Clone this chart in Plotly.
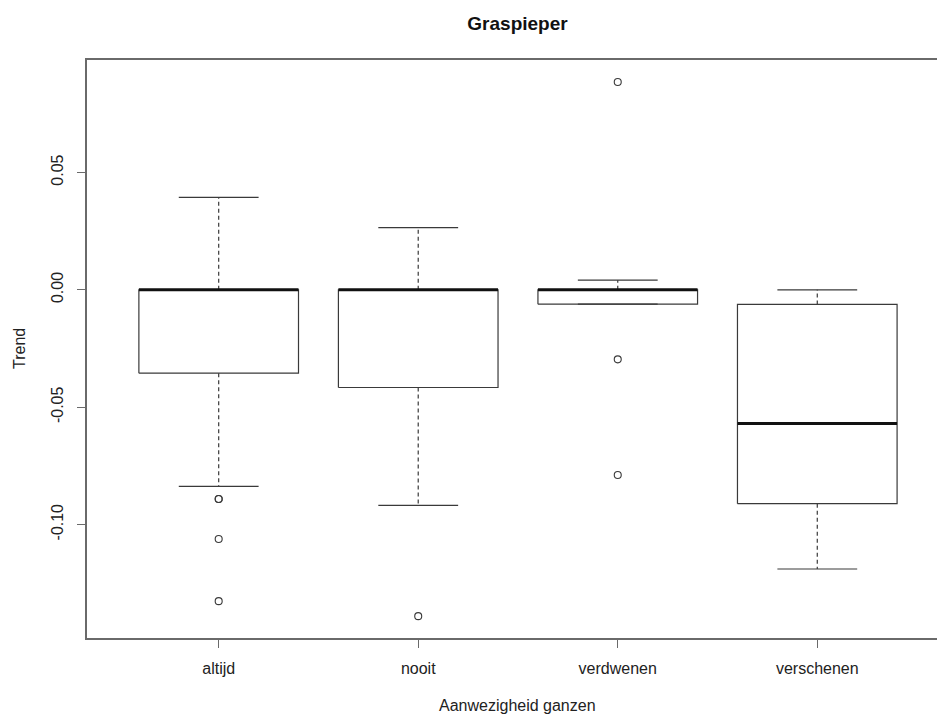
import plotly.graph_objects as go

# ---- data ----
categories = ["altijd", "nooit", "verdwenen", "verschenen"]
upper_whisker = [0.0394, 0.0265, 0.0041, 0.0000]
q3 = [0.0000, 0.0000, 0.0000, -0.0062]
median = [0.0000, 0.0000, 0.0000, -0.0569]
q1 = [-0.0355, -0.0416, -0.0061, -0.0911]
lower_whisker = [-0.0837, -0.0918, -0.0061, -0.1189]
outliers = [
    [-0.0891, -0.0891, -0.1061, -0.1326],
    [-0.1390],
    [0.0885, -0.0296, -0.0789],
    [],
]
y_tick_vals = [-0.10, -0.05, 0.00, 0.05]
y_tick_text = ["-0.10", "-0.05", "0.00", "0.05"]

# ---- style constants ----
FONT = "Liberation Sans, Arial, sans-serif"
LINE_COL = "#3a3a3a"
FRAME_COL = "#6a6a6a"
BOX_HALF = 0.4
CAP_HALF = 0.2

positions = list(range(1, len(categories) + 1))

box_x, box_y = [], []
med_x, med_y = [], []
wh_x, wh_y = [], []
cap_x, cap_y = [], []
out_x, out_y = [], []

for p, uw, a3, md, a1, lw, outs in zip(positions, upper_whisker, q3, median, q1, lower_whisker, outliers):
    box_x += [p - BOX_HALF, p + BOX_HALF, p + BOX_HALF, p - BOX_HALF, p - BOX_HALF, None]
    box_y += [a1, a1, a3, a3, a1, None]
    med_x += [p - BOX_HALF, p + BOX_HALF, None]
    med_y += [md, md, None]
    if uw > a3:
        wh_x += [p, p, None]
        wh_y += [a3, uw, None]
    if lw < a1:
        wh_x += [p, p, None]
        wh_y += [a1, lw, None]
    cap_x += [p - CAP_HALF, p + CAP_HALF, None, p - CAP_HALF, p + CAP_HALF, None]
    cap_y += [uw, uw, None, lw, lw, None]
    out_x += [p] * len(outs)
    out_y += outs

fig = go.Figure()
fig.add_trace(go.Scatter(x=wh_x, y=wh_y, mode="lines",
                         line=dict(color=LINE_COL, width=1.2, dash="4px,3px"),
                         hoverinfo="skip", showlegend=False))
fig.add_trace(go.Scatter(x=cap_x, y=cap_y, mode="lines",
                         line=dict(color=LINE_COL, width=1.2),
                         hoverinfo="skip", showlegend=False))
fig.add_trace(go.Scatter(x=box_x, y=box_y, mode="lines",
                         line=dict(color=LINE_COL, width=1.2),
                         hoverinfo="skip", showlegend=False))
fig.add_trace(go.Scatter(x=med_x, y=med_y, mode="lines",
                         line=dict(color="#111111", width=3),
                         hoverinfo="skip", showlegend=False))
fig.add_trace(go.Scatter(x=out_x, y=out_y, mode="markers",
                         marker=dict(symbol="circle-open", size=7, color=LINE_COL,
                                     line=dict(width=1.1, color=LINE_COL)),
                         hoverinfo="skip", showlegend=False))

plot_l, plot_r = 87, 937
title_x = (517.5 - plot_l) / (plot_r - plot_l)

fig.update_layout(
    width=937, height=718,
    margin=dict(l=87, r=0, t=60, b=80),
    paper_bgcolor="white", plot_bgcolor="white",
    font=dict(family=FONT, size=16, color="#222222"),
    showlegend=False,
    title=dict(text="<b>Graspieper</b>", font=dict(family=FONT, size=19, color="#111111"),
               xref="paper", x=title_x, xanchor="center",
               yref="container", y=1 - 23 / 718, yanchor="middle"),
)
fig.update_xaxes(
    range=[0.34, 4.6], tickmode="array", tickvals=positions, ticktext=categories,
    showline=True, mirror=True, linecolor=FRAME_COL, linewidth=1.5,
    ticks="outside", ticklen=8, tickcolor=FRAME_COL, tickwidth=1.2,
    showgrid=False, zeroline=False, ticklabelstandoff=7,
    tickfont=dict(family=FONT, size=16, color="#222222"),
)
fig.update_yaxes(
    range=[-0.1483, 0.0979], tickmode="array", tickvals=y_tick_vals, ticktext=y_tick_text,
    showline=True, mirror=False, linecolor=FRAME_COL, linewidth=1.5,
    ticks="outside", ticklen=8, tickcolor=FRAME_COL, tickwidth=1.2,
    showgrid=False, zeroline=False, tickangle=-90, ticklabelstandoff=8,
    tickfont=dict(family=FONT, size=16, color="#222222"),
)
fig.add_annotation(text="Aanwezigheid ganzen", xref="paper", yref="paper",
                   x=title_x, y=(638 - 705) / 578, xanchor="center", yanchor="middle",
                   showarrow=False, font=dict(family=FONT, size=16, color="#222222"))
fig.add_annotation(text="Trend", xref="paper", yref="paper",
                   x=(19 - plot_l) / (plot_r - plot_l), y=0.5, xanchor="center", yanchor="middle",
                   textangle=-90, showarrow=False, font=dict(family=FONT, size=16, color="#222222"))

fig.write_html("out.html")
